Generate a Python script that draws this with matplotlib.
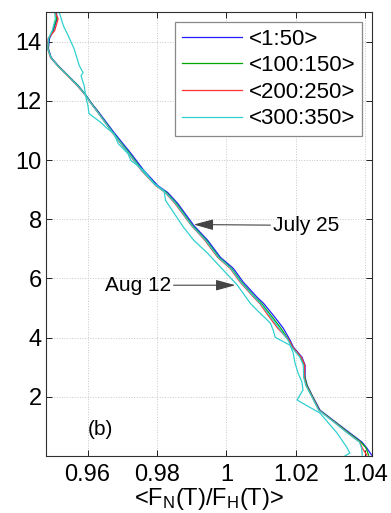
import matplotlib.pyplot as plt
import numpy as np

plt.rcParams['font.family'] = ['Liberation Sans', 'DejaVu Sans']
plt.rcParams['mathtext.fontset'] = 'custom'
plt.rcParams['mathtext.rm'] = 'Liberation Sans'
plt.rcParams['mathtext.it'] = 'Liberation Sans'

# ---------------- data ----------------
depth = [15.0, 14.77, 14.37, 14.10, 13.76, 13.46, 13.19, 12.85, 12.51, 12.18,
         11.94, 11.60, 10.93, 10.22, 9.65, 9.14, 8.90, 8.53, 7.79, 7.29,
         6.71, 6.34, 5.87, 5.36, 5.16, 4.76, 4.32, 3.91, 3.68, 3.34,
         3.07, 2.66, 2.39, 1.99, 1.55, 1.11, 0.78, 0.47, 0.27, 0.03]

ratio_1_50 = [0.9510, 0.9512, 0.9501, 0.9490, 0.9487, 0.9495, 0.9515, 0.9544, 0.9573, 0.9596,
              0.9610, 0.9633, 0.9676, 0.9725, 0.9762, 0.9802, 0.9831, 0.9860, 0.9906, 0.9946,
              0.9983, 1.0020, 1.0049, 1.0089, 1.0107, 1.0135, 1.0164, 1.0184, 1.0193, 1.0218,
              1.0227, 1.0227, 1.0233, 1.0250, 1.0270, 1.0319, 1.0356, 1.0391, 1.0405, 1.0419]

ratio_100_150 = [0.9508, 0.9510, 0.9499, 0.9488, 0.9486, 0.9494, 0.9514, 0.9543, 0.9572, 0.9595,
                 0.9609, 0.9631, 0.9673, 0.9721, 0.9758, 0.9798, 0.9827, 0.9856, 0.9902, 0.9942,
                 0.9979, 1.0015, 1.0044, 1.0083, 1.0101, 1.0128, 1.0157, 1.0180, 1.0190, 1.0214,
                 1.0224, 1.0226, 1.0232, 1.0249, 1.0268, 1.0317, 1.0353, 1.0388, 1.0403, 1.0410]

ratio_200_250 = [0.9506, 0.9515, 0.9505, 0.9486, 0.9485, 0.9493, 0.9513, 0.9542, 0.9570, 0.9594,
                 0.9608, 0.9630, 0.9671, 0.9718, 0.9755, 0.9796, 0.9824, 0.9852, 0.9899, 0.9938,
                 0.9975, 1.0011, 1.0040, 1.0079, 1.0096, 1.0120, 1.0148, 1.0181, 1.0191, 1.0216,
                 1.0226, 1.0225, 1.0230, 1.0248, 1.0267, 1.0315, 1.0350, 1.0385, 1.0392, 1.0405]

ratio_300_350 = [0.9505, 0.9507, 0.9498, 0.9487, 0.9485, 0.9494, 0.9513, 0.9543, 0.9571, 0.9595,
                 0.9608, 0.9630, 0.9672, 0.9719, 0.9756, 0.9797, 0.9825, 0.9854, 0.9900, 0.9940,
                 0.9977, 1.0013, 1.0042, 1.0081, 1.0098, 1.0124, 1.0152, 1.0178, 1.0188, 1.0212,
                 1.0222, 1.0223, 1.0229, 1.0247, 1.0266, 1.0314, 1.0349, 1.0384, 1.0390, 1.0392]

# Aug 12 profile, <300:350>
depth_aug = [15.0, 14.54, 14.20, 13.76, 13.19, 12.95, 12.85, 12.51, 12.07, 11.84,
             11.57, 11.26, 11.10, 10.89, 10.56, 10.22, 9.98, 9.65, 9.21, 8.97,
             8.63, 7.72, 7.29, 6.85, 6.27, 5.77, 5.16, 4.92, 4.49, 4.25,
             4.01, 3.74, 3.47, 3.14, 2.80, 2.50, 2.23, 1.89, 1.45, 0.78,
             0.30, 0.10, 0.0]
ratio_aug = [0.9518, 0.9530, 0.9544, 0.9561, 0.9576, 0.9587, 0.9581, 0.9590, 0.9596, 0.9601,
             0.9604, 0.9639, 0.9653, 0.9676, 0.9688, 0.9716, 0.9725, 0.9762, 0.9791, 0.9820,
             0.9825, 0.9877, 0.9906, 0.9946, 0.9992, 1.0032, 1.0069, 1.0089, 1.0127, 1.0135,
             1.0141, 1.0184, 1.0193, 1.0198, 1.0207, 1.0218, 1.0221, 1.0204, 1.0270, 1.0319,
             1.0347, 1.0356, 1.0342]

labels = ['<1:50>', '<100:150>', '<200:250>', '<300:350>']
colors = ['#1f1fff', '#00a800', '#ff3030', '#30d0d0']

# ---------------- figure ----------------
fig = plt.figure(figsize=(3.91, 5.13), dpi=100)
ax = fig.add_axes([0.1176, 0.1111, 0.8338, 0.8655])

series = [ratio_1_50, ratio_100_150, ratio_200_250, ratio_300_350]
for vals, lab, c in zip(series, labels, colors):
    ax.plot(vals, depth, color=c, lw=0.9, label=lab)
ax.plot(ratio_aug, depth_aug, color=colors[3], lw=0.9)

ax.set_xlim(0.948, 1.042)
ax.set_ylim(0, 15)
ax.set_xticks([0.96, 0.98, 1.0, 1.02, 1.04])
ax.set_xticklabels(['0.96', '0.98', '1', '1.02', '1.04'])
ax.set_yticks([2, 4, 6, 8, 10, 12, 14])
ax.tick_params(direction='in', length=4, width=0.6, labelsize=17,
               top=True, right=True)
ax.tick_params(axis='x', pad=6)
ax.tick_params(axis='y', pad=3)
ax.grid(True, color='#c8c8c8', linestyle=':', linewidth=0.7)
for s in ax.spines.values():
    s.set_linewidth(0.8)
    s.set_color('#303030')

ax.set_xlabel(r'<F$_N$(T)/F$_H$(T)>', fontsize=17, labelpad=0)

# annotations
ax.annotate('July 25', xy=(0.9906, 7.82), xytext=(1.0135, 7.79),
            fontsize=15, ha='left', va='center',
            arrowprops=dict(arrowstyle='-|>,head_length=0.8,head_width=0.22',
                            color='#444444', lw=0.8, shrinkA=0, shrinkB=0))
ax.annotate('Aug 12', xy=(1.0026, 5.77), xytext=(0.9840, 5.77),
            fontsize=15, ha='right', va='center',
            arrowprops=dict(arrowstyle='-|>,head_length=0.8,head_width=0.22',
                            color='#444444', lw=0.8, shrinkA=0, shrinkB=0))
ax.text(0.9637, 0.88, '(b)', fontsize=15, ha='center', va='center')

leg = ax.legend(loc='upper right', fontsize=16, handlelength=2.7,
                handletextpad=0.3, labelspacing=0.25, borderpad=0.3,
                borderaxespad=0.45, fancybox=False, framealpha=1)
leg.get_frame().set_edgecolor('#888888')
leg.get_frame().set_linewidth(0.9)

fig.savefig('out.png', dpi=100)
